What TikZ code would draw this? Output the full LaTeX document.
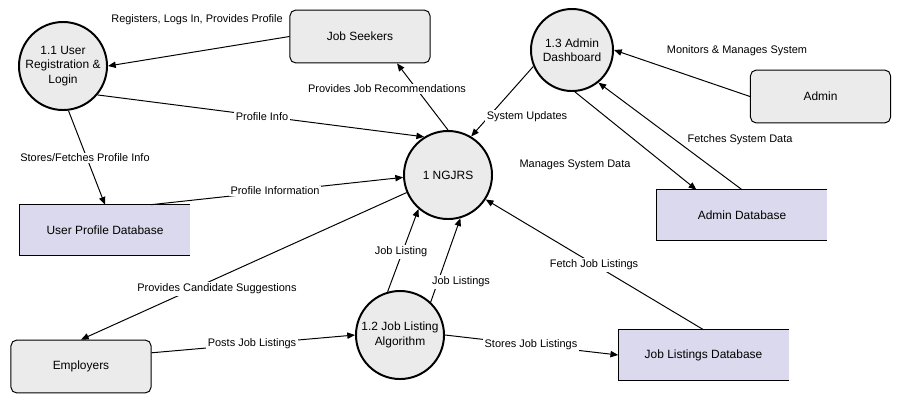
\documentclass[tikz,border=0pt]{standalone}
\usepackage{fontspec}
\setmainfont{Liberation Sans}
\usetikzlibrary{arrows.meta,positioning,shapes}
\definecolor{procfill}{RGB}{235,235,235}
\definecolor{dbfill}{RGB}{218,217,237}

\begin{document}
\begin{tikzpicture}[
    x=0.025cm,y=-0.025cm,
    process/.style={draw,circle,line width=1.4pt,fill=procfill,minimum size=2.2cm,inner sep=0pt,align=center,font=\fontsize{8.5}{10.2}\selectfont},
    extent/.style={draw,rectangle,rounded corners=4pt,line width=0.7pt,fill=procfill,minimum width=3.5cm,minimum height=1.32cm,align=center,font=\fontsize{8.5}{10.2}\selectfont},
    store/.style={rectangle,fill=dbfill,minimum width=4.25cm,minimum height=1.25cm,font=\fontsize{8.5}{10.2}\selectfont},
    flow/.style={-{Triangle[length=5.5pt,width=4.5pt]},line width=0.7pt},
    lbl/.style={fill=white,inner sep=1pt,font=\fontsize{7.8}{9.4}\selectfont}
  ]
    \useasboundingbox (0,0) rectangle (902,404);

    % Processes
    \node[process] (c11) at (63,66) {1.1 User\\Registration \&\\Login};
    \node[process,minimum size=2.05cm] (c13) at (572,50) {1.3 Admin\\Dashboard};
    \node[process] (ng) at (448,175) {1 NGJRS};
    \node[process] (c12) at (400,335) {1.2 Job Listing\\Algorithm};

    % External entities
    \node[extent] (js) at (360,36.5) {Job Seekers};
    \node[extent] (adm) at (820.5,96.5) {Admin};
    \node[extent] (emp) at (81,366.5) {Employers};

    % Data stores - open on the right
    \node[store] (updb) at (105,230) {User Profile Database};
    \node[store] (adb) at (742,215) {Admin Database};
    \node[store] (jldb) at (703.5,355) {Job Listings Database};
    \draw[line width=0.7pt] (updb.north east) -- (updb.north west) -- (updb.south west) -- (updb.south east);
    \draw[line width=0.7pt] (adb.north east) -- (adb.north west) -- (adb.south west) -- (adb.south east);
    \draw[line width=0.7pt] (jldb.north east) -- (jldb.north west) -- (jldb.south west) -- (jldb.south east);

    % Flows around the job seeker side
    \draw[flow] (js.west) -- (c11.east);
    \draw[flow] (c11.-40) -- (ng.122);
    \draw[flow] (ng.north) -- (js.-36);
    \draw[flow] (c11.-83) -- (updb.north);
    \draw[flow] (updb.29) -- (ng.183);

    % Flows around the employer side
    \draw[flow] (ng.203) -- (emp.north);
    \draw[flow] (emp.11) -- (c12.west);
    \draw[flow] (c12.106) -- (ng.229);
    \draw[flow] (c12.47) -- (ng.286);
    \draw[flow] (c12.east) -- (jldb.west);
    \draw[flow] (jldb.north) -- (ng.-33);

    % Flows around the admin side
    \draw[flow] (c13.203) -- (ng.59);
    \draw[flow] (adm.west) -- (c13.east);
    \draw[flow] (c13.-86) -- (adb.151);
    \draw[flow] (adb.north) -- (c13.-51);

    % Flow labels
    \node[lbl] (l1) at (197,20) {Registers, Logs In, Provides Profile};
    \node[lbl] (l2) at (262,117) {Profile Info};
    \node[lbl] (l3) at (387,89) {Provides Job Recommendations};
    \node[lbl] (l4) at (85,158) {Stores/Fetches Profile Info};
    \node[lbl] (l5) at (275,191) {Profile Information};
    \node[lbl] (l6) at (217,289) {Provides Candidate Suggestions};
    \node[lbl] (l7) at (252,344) {Posts Job Listings};
    \node[lbl] (l8) at (401,252) {Job Listing};
    \node[lbl] (l9) at (461,282) {Job Listings};
    \node[lbl] (l10) at (531,345) {Stores Job Listings};
    \node[lbl] (l11) at (594,265) {Fetch Job Listings};
    \node[lbl] (l12) at (527,117) {System Updates};
    \node[lbl] (l13) at (737,51) {Monitors \& Manages System};
    \node[lbl] (l14) at (575,165) {Manages System Data};
    \node[lbl] (l15) at (740,140) {Fetches System Data};
  \end{tikzpicture}
\end{document}
